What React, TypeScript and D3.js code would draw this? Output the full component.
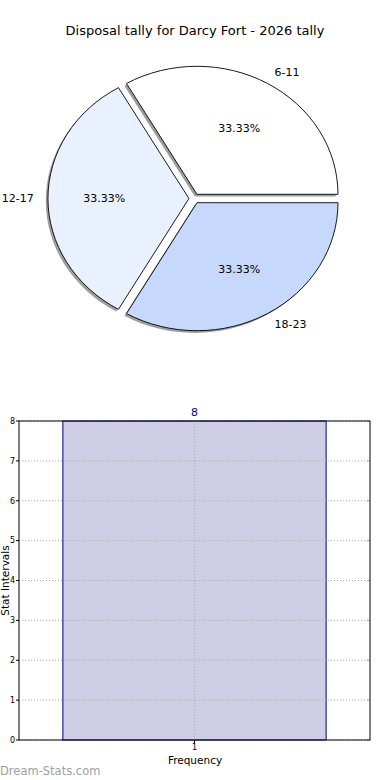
import React from 'react';
import * as d3 from 'd3';

const pieLabels = ['6-11', '12-17', '18-23'];
const pieValues = [1, 1, 1];
const pieColors = ['#ffffff', '#eaf1fe', '#c6d9fd'];

const barCategories = [1];
const barValues = [8];
const yTicks = [0, 1, 2, 3, 4, 5, 6, 7, 8];

const W = 390;
const H = 780;
const font = 'DejaVu Sans, sans-serif';

const App: React.FC = () => {
  // pie geometry (elliptical, like the stretched matplotlib axes)
  const cx = 194.3;
  const cy = 198.5;
  const rx = 141;
  const ry = 128;
  const explode = 0.038;

  // d3 angles: clockwise from north; go counterclockwise starting at east
  const pie = d3
    .pie<number>()
    .sort(null)
    .startAngle(Math.PI / 2)
    .endAngle(Math.PI / 2 - 2 * Math.PI)
    .value((d) => d);
  const arcs = pie(pieValues);
  const arc = d3.arc<any>().innerRadius(0).outerRadius(1);
  const total = d3.sum(pieValues);

  const slices = arcs.map((a, i) => {
    const m = (a.startAngle + a.endAngle) / 2;
    const ux = Math.sin(m);
    const uy = -Math.cos(m);
    const ox = cx + explode * ux * rx;
    const oy = cy + explode * uy * ry;
    return { a, i, ux, uy, ox, oy };
  });

  // bar chart
  const x = d3.scaleLinear().domain([0.5, 1.5]).range([19, 370]);
  const y = d3.scaleLinear().domain([0, 8]).range([740, 421]);
  const barW = 0.75;

  return (
    <svg width={W} height={H} style={{ position: 'absolute', left: 0, top: 0 }}>
      <rect x={0} y={0} width={W} height={H} fill="#fff" />
      <text x={195} y={35} textAnchor="middle" fontFamily={font} fontSize={13} fill="#000">
        Disposal tally for Darcy Fort - 2026 tally
      </text>

      {/* shadows */}
      {slices.map((s) => (
        <path
          key={'sh' + s.i}
          d={arc(s.a) || ''}
          transform={`translate(${s.ox - 2.2},${s.oy + 2.2}) scale(${rx},${ry})`}
          fill="#4d4d4d"
          fillOpacity={0.55}
          stroke="none"
        />
      ))}
      {slices.map((s) => (
        <path
          key={'sl' + s.i}
          d={arc(s.a) || ''}
          transform={`translate(${s.ox},${s.oy}) scale(${rx},${ry})`}
          fill={pieColors[s.i]}
          stroke="#000"
          strokeWidth={0.9}
          vectorEffect="non-scaling-stroke"
          strokeLinejoin="miter"
        />
      ))}
      {slices.map((s) => (
        <g key={'lb' + s.i} fontFamily={font} fontSize={11} fill="#000">
          <text
            x={s.ox + 1.1 * s.ux * rx}
            y={s.oy + 1.1 * s.uy * ry}
            dy="0.35em"
            textAnchor={s.ux > 0.01 ? 'start' : s.ux < -0.01 ? 'end' : 'middle'}
          >
            {pieLabels[s.i]}
          </text>
          <text
            x={s.ox + 0.6 * s.ux * rx}
            y={s.oy + 0.6 * s.uy * ry}
            dy="0.35em"
            textAnchor="middle"
          >
            {((pieValues[s.i] / total) * 100).toFixed(2) + '%'}
          </text>
        </g>
      ))}

      {/* bar chart */}
      {barCategories.map((c, i) => (
        <rect
          key={'bar' + i}
          x={x(c - barW / 2)}
          y={y(barValues[i])}
          width={x(c + barW / 2) - x(c - barW / 2)}
          height={y(0) - y(barValues[i])}
          fill="#cdcde6"
          stroke="#000080"
          strokeWidth={1}
        />
      ))}
      {yTicks.map((t) => (
        <g key={'yt' + t}>
          <line
            x1={x.range()[0]}
            x2={x.range()[1]}
            y1={y(t)}
            y2={y(t)}
            stroke="#aaa"
            strokeWidth={1}
            strokeDasharray="1,2"
          />
          <line x1={x.range()[0] - 3} x2={x.range()[0]} y1={y(t)} y2={y(t)} stroke="#000" />
          <line x1={x.range()[1] - 3} x2={x.range()[1]} y1={y(t)} y2={y(t)} stroke="#aaa" />
          <text
            x={x.range()[0] - 4}
            y={y(t)}
            dy="0.35em"
            textAnchor="end"
            fontFamily={font}
            fontSize={8}
            fill="#000"
          >
            {t}
          </text>
        </g>
      ))}
      {barCategories.map((c, i) => (
        <g key={'xt' + i}>
          <line x1={x(c)} x2={x(c)} y1={y(8)} y2={y(0)} stroke="#aaa" strokeDasharray="1,2" />
          <line x1={x(c)} x2={x(c)} y1={y(0)} y2={y(0) + 3} stroke="#000" />
          <text x={x(c)} y={y(0) + 10} textAnchor="middle" fontFamily={font} fontSize={8} fill="#000">
            {c}
          </text>
          <text
            x={x(c)}
            y={y(barValues[i]) - 5}
            textAnchor="middle"
            fontFamily={font}
            fontSize={11}
            fill="#000080"
          >
            {barValues[i]}
          </text>
        </g>
      ))}
      <rect
        x={x.range()[0]}
        y={y(8)}
        width={x.range()[1] - x.range()[0]}
        height={y(0) - y(8)}
        fill="none"
        stroke="#000"
        strokeWidth={1}
      />
      <text x={195} y={764} textAnchor="middle" fontFamily={font} fontSize={10.5} fill="#000">
        Frequency
      </text>
      <text
        transform={`translate(9,${(y(0) + y(8)) / 2}) rotate(-90)`}
        textAnchor="middle"
        fontFamily={font}
        fontSize={10.5}
        fill="#000"
      >
        Stat Intervals
      </text>
      <text x={0} y={775} fontFamily={font} fontSize={11.5} fill="#a0a0a0">
        Dream-Stats.com
      </text>
    </svg>
  );
};

export default App;
